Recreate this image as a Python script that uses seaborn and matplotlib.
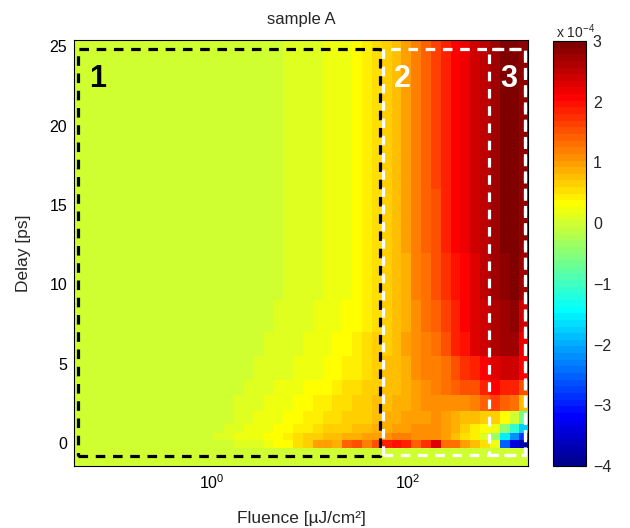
import numpy as np
import matplotlib
matplotlib.use("Agg")
import matplotlib.pyplot as plt
from matplotlib.colors import ListedColormap
from matplotlib.ticker import NullLocator
import seaborn as sns

# ---------------- data ----------------
# cell edges along fluence (log10 of uJ/cm^2) and delay (ps)
fluence_log_edges = [-1.45, -0.47, 0.03, 0.13, 0.23, 0.33, 0.43, 0.53, 0.63, 0.73,
                     0.83, 0.93, 1.03, 1.13, 1.23, 1.33, 1.43, 1.53, 1.63, 1.73,
                     1.83, 1.93, 2.03, 2.13, 2.23, 2.33, 2.43, 2.53, 2.63, 2.73,
                     2.83, 2.93, 3.03, 3.13, 3.25]
delay_edges = [-1.5, -0.3, 0.2, 0.6, 1.2, 2, 3, 4, 5.5, 7, 9, 12, 16, 20, 25.5]

# signal (x 1e-4), one list per delay band, columns follow fluence cells
sig_pre = [0, 0, 0, 0, 0, 0, 0, 0, 0, 0, 0, 0, 0, 0, 0, 0, 0, 0, 0, 0,
           0, 0, 0, 0, 0, 0, 0, 0, 0, 0, 0, 0, 0, 0]
sig_t0 = [0, 0, 0, 0, 0.05, 0.1, 0.15, 0.25, 0.3, 0.35, 0.5, 0.7, 1.0, 1.0, 0.9, 1.4, 1.5, 1.2, 1.5, 1.8,
          2.0, 1.9, 1.4, 1.7, 2.3, 1.3, 1.3, 1.0, 0.8, 0.5, 0.2, -2.5, -3.4, -3.7]
sig_0p4 = [0, 0, 0.1, 0.1, 0.2, 0.2, 0.25, 0.3, 0.35, 0.4, 0.5, 0.6, 0.7, 0.75, 0.8, 0.85, 0.9, 0.95, 1.0, 1.1,
           1.15, 1.15, 1.1, 1.1, 1.1, 1.0, 0.8, 0.5, 0.4, 0.1, -0.3, -1.5, -2.2, -2.9]
sig_0p9 = [0, 0, 0, 0.1, 0.15, 0.2, 0.2, 0.25, 0.3, 0.35, 0.4, 0.45, 0.55, 0.6, 0.65, 0.7, 0.75, 0.8, 0.85, 0.9,
           0.95, 1.0, 1.05, 1.05, 1.05, 1.0, 0.85, 0.6, 0.45, 0.3, 0.25, -0.4, -1.1, -1.8]
sig_1p6 = [0, 0, 0, 0, 0.1, 0.1, 0.2, 0.2, 0.25, 0.3, 0.35, 0.4, 0.45, 0.5, 0.55, 0.6, 0.65, 0.7, 0.8, 0.85,
           0.9, 0.95, 1.0, 1.0, 1.05, 1.0, 0.9, 0.75, 0.75, 0.7, 0.65, 0.35, 0.0, -0.7]
sig_2p5 = [0, 0, 0, 0, 0.05, 0.1, 0.1, 0.2, 0.2, 0.25, 0.3, 0.35, 0.4, 0.45, 0.5, 0.55, 0.6, 0.7, 0.75, 0.8,
           0.85, 0.9, 0.95, 1.05, 1.1, 1.1, 1.05, 1.1, 1.15, 1.4, 1.6, 1.4, 1.3, 0.75]
sig_3p5 = [0, 0, 0, 0, 0, 0.05, 0.1, 0.1, 0.2, 0.2, 0.25, 0.3, 0.3, 0.35, 0.45, 0.5, 0.55, 0.6, 0.7, 0.75,
           0.8, 0.9, 1.0, 1.1, 1.15, 1.25, 1.4, 1.5, 1.55, 1.8, 2.05, 1.9, 1.8, 1.5]
sig_4p8 = [0, 0, 0, 0, 0, 0, 0.05, 0.1, 0.1, 0.15, 0.2, 0.2, 0.25, 0.3, 0.35, 0.4, 0.45, 0.55, 0.65, 0.75,
           0.8, 0.9, 1.05, 1.15, 1.2, 1.35, 1.5, 1.7, 1.9, 2.1, 2.3, 2.35, 2.4, 2.05]
sig_6p2 = [0, 0, 0, 0, 0, 0, 0, 0.1, 0.1, 0.1, 0.15, 0.2, 0.2, 0.25, 0.3, 0.35, 0.4, 0.5, 0.6, 0.7,
           0.8, 0.95, 1.1, 1.2, 1.25, 1.5, 1.8, 2.0, 2.25, 2.4, 2.6, 2.7, 2.7, 2.2]
sig_8 = [0, 0, 0, 0, 0, 0, 0, 0, 0.1, 0.1, 0.1, 0.15, 0.2, 0.2, 0.25, 0.3, 0.35, 0.45, 0.55, 0.65,
         0.75, 0.9, 1.1, 1.3, 1.4, 1.65, 1.9, 2.05, 2.25, 2.45, 2.65, 2.75, 2.8, 2.45]
sig_10 = [0, 0, 0, 0, 0, 0, 0, 0, 0, 0.1, 0.1, 0.1, 0.15, 0.2, 0.2, 0.25, 0.3, 0.4, 0.55, 0.65,
          0.75, 0.9, 1.15, 1.35, 1.5, 1.75, 2.0, 2.1, 2.3, 2.5, 2.7, 2.85, 2.9, 2.7]
sig_14 = [0, 0, 0, 0, 0, 0, 0, 0, 0, 0.1, 0.1, 0.1, 0.1, 0.2, 0.2, 0.25, 0.3, 0.4, 0.55, 0.65,
          0.75, 0.95, 1.2, 1.4, 1.55, 1.8, 2.05, 2.15, 2.35, 2.5, 2.75, 2.9, 2.95, 2.8]
sig_18 = [0, 0, 0, 0, 0, 0, 0, 0, 0, 0.1, 0.1, 0.1, 0.1, 0.2, 0.2, 0.25, 0.3, 0.4, 0.55, 0.65,
          0.75, 0.95, 1.2, 1.4, 1.6, 1.85, 2.05, 2.2, 2.4, 2.55, 2.75, 2.9, 2.95, 2.85]
sig_23 = [0, 0, 0, 0, 0, 0, 0, 0, 0, 0.1, 0.1, 0.1, 0.1, 0.2, 0.2, 0.25, 0.3, 0.4, 0.55, 0.65,
          0.75, 0.95, 1.2, 1.4, 1.6, 1.85, 2.05, 2.2, 2.4, 2.55, 2.75, 2.9, 2.95, 2.85]

# marked regions
region_labels = ["1", "2", "3"]
region_fluence_lo = [0.044, 55, 660]
region_fluence_hi = [51.5, 1540, 1540]
region_delay_lo = [-0.8, -0.75, -0.75]
region_delay_hi = [24.85, 24.85, 24.85]
region_colors = ["black", "white", "white"]

x_ticks = [1, 100]
x_tick_labels = [r"$10^{0}$", r"$10^{2}$"]
y_ticks = [0, 5, 10, 15, 20, 25]
cbar_ticks = [-4, -3, -2, -1, 0, 1, 2, 3]

# ---------------- style ----------------
sns.set_style("ticks")
plt.rcParams["font.family"] = ["Liberation Sans", "DejaVu Sans"]
plt.rcParams["mathtext.fontset"] = "custom"
plt.rcParams["mathtext.rm"] = "Liberation Sans"
plt.rcParams["mathtext.it"] = "Liberation Sans:italic"
plt.rcParams["mathtext.bf"] = "Liberation Sans:bold"


def matlab_jet(m=64):
    n = int(np.ceil(m / 4))
    u = np.concatenate([np.arange(1, n + 1) / n, np.ones(n - 1), np.arange(n, 0, -1) / n])
    g = int(np.ceil(n / 2)) - (1 if m % 4 == 1 else 0) + np.arange(1, len(u) + 1)
    r = g + n
    b = g - n
    J = np.zeros((m, 3))
    J[g[g <= m] - 1, 1] = u[g <= m]
    J[r[r <= m] - 1, 0] = u[r <= m]
    J[b[b >= 1] - 1, 2] = u[b >= 1]
    return ListedColormap(J)


cmap = matlab_jet(64)

signal = np.array([sig_pre, sig_t0, sig_0p4, sig_0p9, sig_1p6, sig_2p5, sig_3p5,
                   sig_4p8, sig_6p2, sig_8, sig_10, sig_14, sig_18, sig_23])
fluence_edges = 10 ** np.array(fluence_log_edges)

fig = plt.figure(figsize=(6.3, 5.28), dpi=100)
ax = fig.add_axes([74 / 630, 62 / 528, 454 / 630, 426 / 528])
cax = fig.add_axes([553 / 630, 62 / 528, 33 / 630, 425 / 528])

mesh = ax.pcolormesh(fluence_edges, delay_edges, signal, cmap=cmap,
                     vmin=-4, vmax=3, shading="flat", rasterized=True)
ax.set_xscale("log")
ax.set_xlim(0.04, 1650)
ax.set_ylim(-1.45, 25.4)

dash = (0, (3.0, 2.4))
for lab, flo, fhi, dlo, dhi, col in zip(region_labels, region_fluence_lo, region_fluence_hi,
                                       region_delay_lo, region_delay_hi, region_colors):
    xs = [flo, fhi, fhi, flo, flo]
    ys = [dlo, dlo, dhi, dhi, dlo]
    sns.lineplot(x=xs, y=ys, sort=False, estimator=None, color=col, lw=2.3,
                 linestyle=dash, ax=ax, legend=False)
    ax.annotate(lab, xy=(flo, dhi), xytext=(8, -11), textcoords="offset points",
                ha="left", va="top", fontsize=22, fontweight="bold", color=col)

ax.set_xticks(x_ticks)
ax.set_xticklabels(x_tick_labels)
ax.xaxis.set_minor_locator(NullLocator())
ax.set_yticks(y_ticks)
ax.tick_params(direction="in", top=True, right=True, length=4, width=0.8,
               labelsize=11.5, colors="black", pad=5)
for s in ax.spines.values():
    s.set_linewidth(0.8)
    s.set_color("black")

ax.set_title("sample A", fontsize=12, pad=11.5)
ax.set_xlabel("Fluence [\u00b5J/cm\u00b2]", fontsize=12.5, labelpad=14)
ax.set_ylabel("Delay [ps]", fontsize=12.5, labelpad=13)

cb = fig.colorbar(mesh, cax=cax, ticks=cbar_ticks)
cb.ax.tick_params(direction="in", left=True, right=True, length=4, width=0.8,
                  labelsize=11.5, pad=5)
cb.outline.set_linewidth(0.8)
cb.outline.set_edgecolor("black")
cax.text(0.08, 1.0, r"x 10$^{-4}$", transform=cax.transAxes, ha="left", va="bottom",
         fontsize=10)

fig.savefig("out.png", dpi=100)
